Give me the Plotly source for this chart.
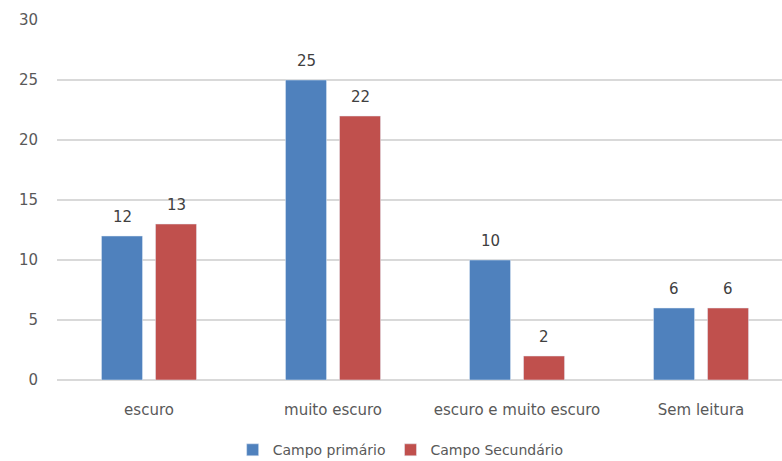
import plotly.graph_objects as go

categories = ["escuro", "muito escuro", "escuro e muito escuro", "Sem leitura"]
campo_primario = [12, 25, 10, 6]
campo_secundario = [13, 22, 2, 6]
series_names = ["Campo primário", "Campo Secundário"]
y_ticks = [0, 5, 10, 15, 20, 25, 30]

BLUE = "#4F81BD"
RED = "#C0504D"
TEXT = "#595959"
FONT = "DejaVu Sans"
SIZE = 15

fig = go.Figure()
fig.add_bar(x=categories, y=campo_primario, name=series_names[0], marker_color=BLUE)
fig.add_bar(x=categories, y=campo_secundario, name=series_names[1], marker_color=RED)

# value labels above each bar
for values, shift in ((campo_primario, -27), (campo_secundario, 27)):
    for cat, v in zip(categories, values):
        fig.add_annotation(x=cat, y=v, text=str(v), showarrow=False,
                           xshift=shift, yshift=8, yanchor="bottom",
                           font=dict(family=FONT, size=SIZE, color="#404040"))

fig.update_layout(
    width=782, height=461,
    margin=dict(l=57, r=0, t=20, b=81, autoexpand=False),
    paper_bgcolor="white", plot_bgcolor="white",
    barmode="group", bargap=0.413, bargroupgap=0.24,
    font=dict(family=FONT, size=SIZE, color=TEXT),
    legend=dict(orientation="h", x=0.474, xanchor="center", y=-0.195, yanchor="middle",
                font=dict(family=FONT, size=14, color=TEXT), itemwidth=30,
                traceorder="normal"),
    showlegend=True,
)
fig.update_xaxes(type="category", range=[-0.5, 3.44], showgrid=False,
                 showline=False, zeroline=False, ticks="", ticklabelstandoff=19,
                 tickfont=dict(family=FONT, size=SIZE, color=TEXT))
fig.update_yaxes(range=[0, 30], tickvals=y_ticks, showgrid=True, gridcolor="#D9D9D9",
                 gridwidth=1.5, zeroline=True, zerolinecolor="#D9D9D9", zerolinewidth=1.5,
                 showline=False, ticks="", ticklabelstandoff=18,
                 tickfont=dict(family=FONT, size=SIZE, color=TEXT))

fig.write_html("out.html")
